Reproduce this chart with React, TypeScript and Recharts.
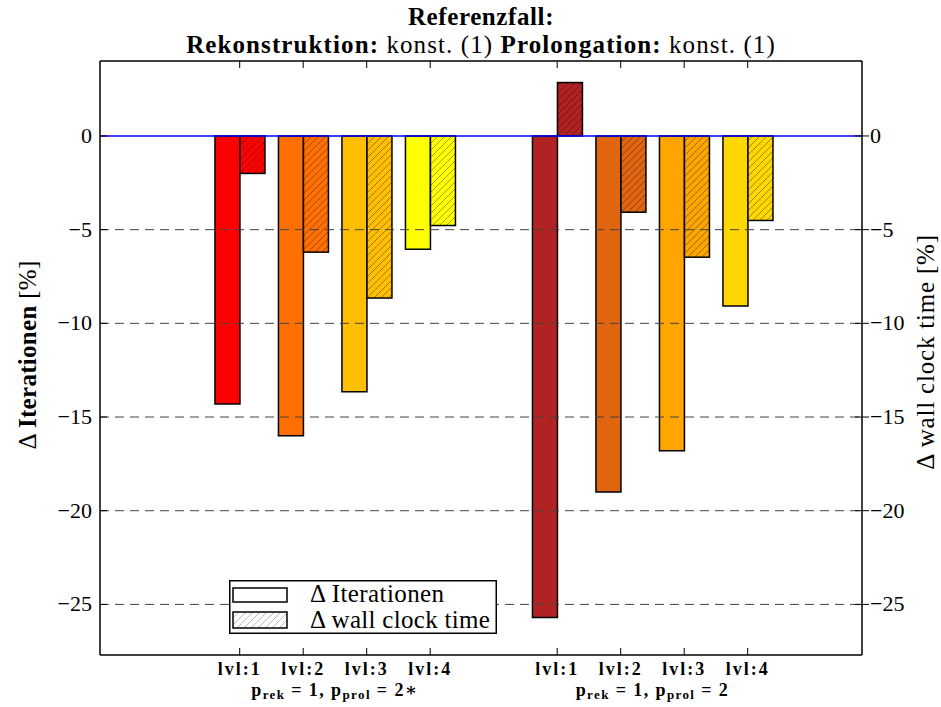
import React from 'react';
import { Bar, BarChart, Cell, ReferenceLine, XAxis, YAxis } from 'recharts';

// bar-pair centres along the x axis (axis runs 0..12)
const positions = [2.2, 3.2, 4.2, 5.2, 7.2, 8.2, 9.2, 10.2];
const levels = ['lvl:1', 'lvl:2', 'lvl:3', 'lvl:4', 'lvl:1', 'lvl:2', 'lvl:3', 'lvl:4'];
const iterations = [-14.3, -16.0, -13.65, -6.05, -25.7, -19.0, -16.8, -9.07];
const wallClock = [-2.0, -6.2, -8.65, -4.78, 2.85, -4.07, -6.47, -4.51];
const barColors = ['#ff0000', '#ff7000', '#ffbf00', '#ffff00', '#b22222', '#e0650f', '#ffa500', '#ffd700'];
const groupCenters = [3.7, 8.7];
const groupStars = ['∗', ''];
const yTicks = [0, -5, -10, -15, -20, -25];
const yDomain = [-27.7, 4];

const data = positions.map((x, i) => ({
  x,
  level: levels[i],
  iter: iterations[i],
  wall: wallClock[i],
}));

const FONT = "'Liberation Serif', 'DejaVu Serif', serif";
const PLOT_TOP = 61;
const PLOT_BOTTOM = 655;
const PLOT_LEFT = 100;
const PLOT_RIGHT = 862;

const fmt = (v: number) => (v < 0 ? `\u2212${Math.abs(v)}` : `${v}`);

const LevelTick = (props: any) => {
  const { x, payload } = props;
  const i = positions.findIndex((p) => Math.abs(p - payload.value) < 1e-6);
  return (
    <g>
      <line x1={x} x2={x} y1={PLOT_BOTTOM} y2={PLOT_BOTTOM - 7} stroke="#000" strokeWidth={1} />
      <line x1={x} x2={x} y1={PLOT_TOP} y2={PLOT_TOP + 7} stroke="#000" strokeWidth={1} />
      <text x={x} y={PLOT_BOTTOM + 20} textAnchor="middle" style={{ fontFamily: FONT }} fontWeight="bold" fontSize={18} letterSpacing={2} fill="#000">
        {i >= 0 ? levels[i] : ''}
      </text>
    </g>
  );
};

const GroupTick = (props: any) => {
  const { x, payload } = props;
  const i = groupCenters.indexOf(payload.value);
  return (
    <text x={x} y={696} textAnchor="middle" style={{ fontFamily: FONT }} fontWeight="bold" fontSize={18} letterSpacing={1.4} fill="#000">
      p<tspan fontSize={13} dy={3}>rek</tspan>
      <tspan dy={-3}> = 1, p</tspan>
      <tspan fontSize={13} dy={3}>prol</tspan>
      <tspan dy={-3}> = 2{groupStars[i]}</tspan>
    </text>
  );
};

const LeftTick = (props: any) => {
  const { y, payload } = props;
  return (
    <g>
      <line x1={PLOT_LEFT} x2={PLOT_LEFT + 7} y1={y} y2={y} stroke="#000" />
      <text x={PLOT_LEFT - 8} y={y + 7} textAnchor="end" style={{ fontFamily: FONT }} fontSize={22} fill="#000">
        {fmt(payload.value)}
      </text>
    </g>
  );
};

const RightTick = (props: any) => {
  const { y, payload } = props;
  return (
    <g>
      <line x1={PLOT_RIGHT} x2={PLOT_RIGHT + 7} y1={y} y2={y} stroke="#000" />
      <line x1={PLOT_RIGHT - 7} x2={PLOT_RIGHT} y1={y} y2={y} stroke="#000" />
      <text x={PLOT_RIGHT + 8} y={y + 7} textAnchor="start" style={{ fontFamily: FONT }} fontSize={22} fill="#000">
        {fmt(payload.value)}
      </text>
    </g>
  );
};

const HatchedBar = (props: any) => {
  let { x, y, width, height } = props;
  const { index } = props;
  if (height < 0) {
    y += height;
    height = -height;
  }
  return (
    <g>
      <rect x={x} y={y} width={width} height={height} fill={barColors[index]} />
      <rect x={x} y={y} width={width} height={height} fill="url(#hatch)" stroke="#000" strokeWidth={1.5} />
    </g>
  );
};

export default function App() {
  return (
    <div style={{ position: 'absolute', left: 0, top: 0, width: 941, height: 707, background: '#fff', fontFamily: FONT }}>
      <svg width={0} height={0} style={{ position: 'absolute' }}>
        <defs>
          <pattern id="hatch" patternUnits="userSpaceOnUse" width={7} height={7}>
            <path d="M0,7 L7,0 M-1,1 L1,-1 M6,8 L8,6" stroke="rgba(0,0,0,0.45)" strokeWidth={0.8} />
          </pattern>
          <pattern id="hatchLight" patternUnits="userSpaceOnUse" width={7} height={7}>
            <rect width={7} height={7} fill="#fff" />
            <path d="M0,7 L7,0 M-1,1 L1,-1 M6,8 L8,6" stroke="#aaa" strokeWidth={0.8} />
          </pattern>
        </defs>
      </svg>
      <BarChart
        width={941}
        height={707}
        data={data}
        margin={{ top: PLOT_TOP, right: 19, bottom: 0, left: 40 }}
        barGap={0}
        barSize={25}
      >
        <XAxis
          xAxisId="lvl"
          type="number"
          dataKey="x"
          domain={[0, 12]}
          ticks={positions}
          tick={<LevelTick />}
          tickLine={false}
          axisLine={false}
          height={30}
          interval={0}
        />
        <XAxis
          xAxisId="group"
          type="number"
          dataKey="x"
          domain={[0, 12]}
          ticks={groupCenters}
          tick={<GroupTick />}
          tickLine={false}
          axisLine={false}
          height={22}
          interval={0}
        />
        <YAxis
          yAxisId="left"
          domain={yDomain}
          ticks={yTicks}
          allowDataOverflow
          tick={<LeftTick />}
          tickLine={false}
          axisLine={{ stroke: '#000', strokeWidth: 1.5 }}
          width={60}
          interval={0}
        />
        <YAxis
          yAxisId="right"
          orientation="right"
          domain={yDomain}
          ticks={yTicks}
          allowDataOverflow
          tick={<RightTick />}
          tickLine={false}
          axisLine={{ stroke: '#000', strokeWidth: 1.5 }}
          width={60}
          interval={0}
        />
        {yTicks
          .filter((t) => t !== 0)
          .map((t) => (
            <ReferenceLine key={t} yAxisId="left" xAxisId="lvl" y={t} stroke="#444" strokeWidth={1} strokeDasharray="9 6" />
          ))}
        <ReferenceLine yAxisId="left" xAxisId="lvl" y={0} stroke="#0000ff" strokeWidth={1.5} />
        <ReferenceLine yAxisId="left" xAxisId="lvl" y={yDomain[1]} stroke="#000" strokeWidth={1.5} />
        <ReferenceLine yAxisId="left" xAxisId="lvl" y={yDomain[0]} stroke="#000" strokeWidth={1.5} />
        <Bar dataKey="iter" xAxisId="lvl" yAxisId="left" stroke="#000" strokeWidth={1.5} isAnimationActive={false}>
          {data.map((d, i) => (
            <Cell key={d.x} fill={barColors[i]} />
          ))}
        </Bar>
        <Bar dataKey="wall" xAxisId="lvl" yAxisId="left" shape={<HatchedBar />} isAnimationActive={false} />
      </BarChart>
      <svg width={941} height={707} style={{ position: 'absolute', left: 0, top: 0, pointerEvents: 'none', fontFamily: FONT }}>
        <text x={481} y={25} textAnchor="middle" fontWeight="bold" fontSize={25} letterSpacing={0.6}>
          Referenzfall:
        </text>
        <text x={481} y={53} textAnchor="middle" fontSize={25} letterSpacing={1.1}>
          <tspan fontWeight="bold">Rekonstruktion:</tspan> konst. (1) <tspan fontWeight="bold">Prolongation:</tspan> konst. (1)
        </text>
        <text x={0} y={0} transform="translate(36, 355) rotate(-90)" textAnchor="middle" fontSize={25} letterSpacing={0.3}>
          Δ <tspan fontWeight="bold">Iterationen</tspan> [%]
        </text>
        <text x={0} y={0} transform="translate(934, 352) rotate(-90)" textAnchor="middle" fontSize={25} letterSpacing={0.8}>
          Δ wall clock time [%]
        </text>
        {/* legend */}
        <g transform="translate(229, 580)">
          <rect x={0.75} y={0.75} width={266.5} height={52.5} fill="#fff" stroke="#000" strokeWidth={1.5} />
          <rect x={4} y={8} width={54} height={14} fill="#fff" stroke="#000" strokeWidth={1.5} />
          <rect x={4} y={32} width={54} height={16} fill="url(#hatchLight)" stroke="#000" strokeWidth={1.5} />
          <text x={81} y={22} fontSize={25} letterSpacing={0.4} fill="#000">Δ Iterationen</text>
          <text x={81} y={48} fontSize={25} letterSpacing={0.3} fill="#000">Δ wall clock time</text>
        </g>
      </svg>
    </div>
  );
}
